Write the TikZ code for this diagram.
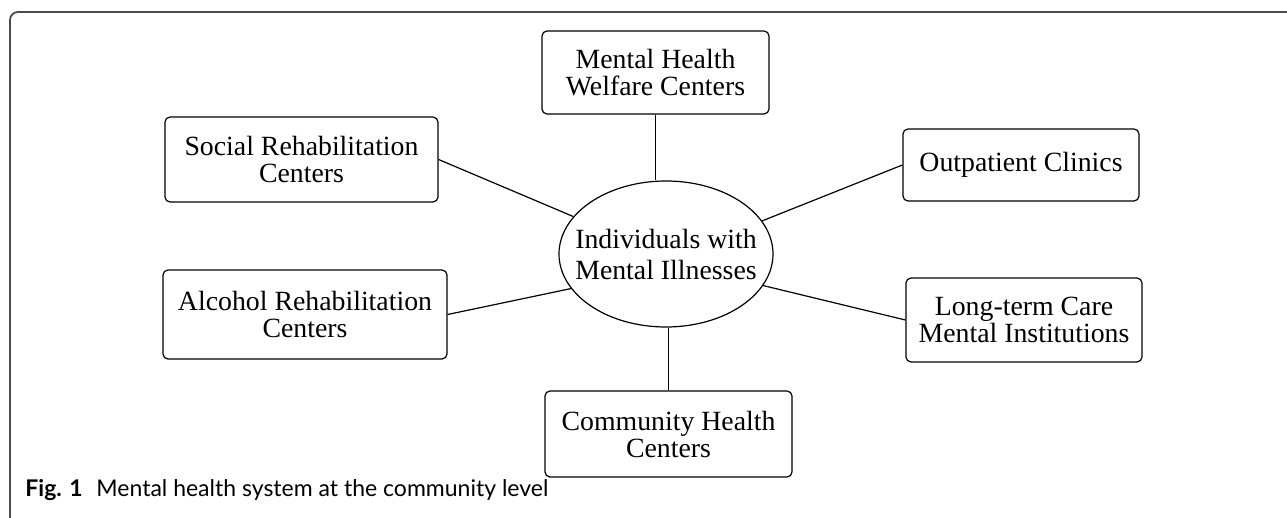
\documentclass[tikz,border=0pt]{standalone}
\usepackage{fontspec}
\setmainfont{Liberation Serif}
\newfontfamily\capfont{Lato}
\usetikzlibrary{shapes.geometric}

\begin{document}
\begin{tikzpicture}[x=0.5pt, y=-0.5pt,
        service/.style={draw, line width=0.6pt, inner sep=0pt, align=center,
            rounded corners=2.5pt, font=\fontsize{13.9}{13.5}\selectfont},
        hub/.style={draw, ellipse, line width=0.6pt, inner sep=0pt,
            minimum width=107pt, minimum height=73pt},
        link/.style={line width=0.6pt}]

            \useasboundingbox (0,0) rectangle (1287,518);

            %frame
            \draw[line width=0.9pt, black!70, rounded corners=4pt] (10,518) -- (10,12) -- (1287,12);

            %hub
            \node[hub] (ind) at (666,254) {};
            \node[align=center, inner sep=0pt, font=\fontsize{13.9}{15.5}\selectfont] (indtext) at (ind) {Individuals with\\Mental Illnesses};

            %services
            \node[service, minimum width=113.5pt, minimum height=41.5pt] (mhwc) at (655.5,72.5) {Mental Health\\Welfare Centers};
            \node[service, minimum width=136.5pt, minimum height=42.5pt] (soc) at (301.5,159.5) {Social Rehabilitation\\Centers};
            \node[service, minimum width=142pt, minimum height=44.5pt] (alc) at (305,314.5) {Alcohol Rehabilitation\\Centers};
            \node[service, minimum width=118pt, minimum height=36pt] (out) at (1021,165) {Outpatient Clinics};
            \node[service, minimum width=118pt, minimum height=42pt] (ltc) at (1024,320) {Long-term Care\\Mental Institutions};
            \node[service, minimum width=123.5pt, minimum height=43pt] (chc) at (668.5,434) {Community Health\\Centers};

            %links
            \draw[link] (mhwc.south) -- (mhwc.south |- ind.north);
            \draw[link] (chc.north) -- (chc.north |- ind.south);
            \draw[link] (soc.east) -- (ind.158);
            \draw[link] (out.west) -- (ind.19);
            \draw[link] (alc.east) -- (ind.200);
            \draw[link] (ltc.west) -- (ind.342);

            %caption
            \node[anchor=base west, inner sep=0pt, font=\capfont\fontsize{11.5}{13}\selectfont] (cap) at (25,497)
                {\textbf{Fig. 1}\hspace{0.6em}Mental health system at the community level};
        \end{tikzpicture}
\end{document}
